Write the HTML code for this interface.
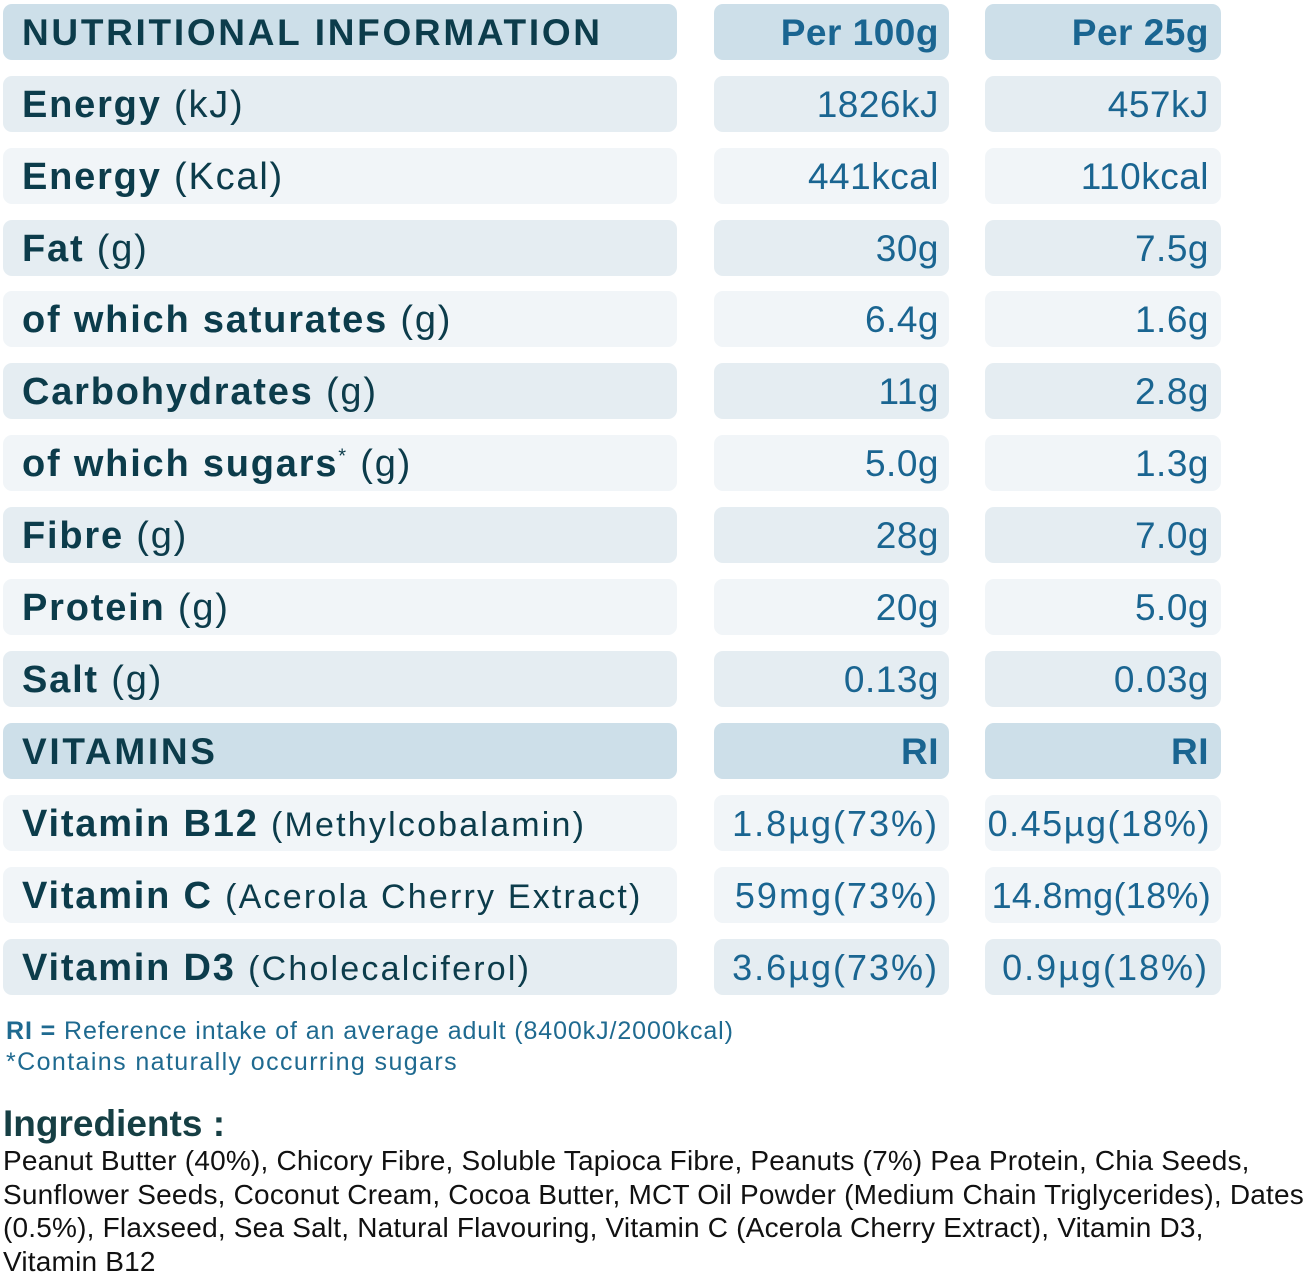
<!DOCTYPE html><html><head><style>
body{margin:0;width:1311px;height:1273px;background:#fff;position:relative;overflow:hidden;font-family:"Liberation Sans",sans-serif}
.b{position:absolute;height:56px;border-radius:9px;line-height:58px;font-size:38px;white-space:nowrap;overflow:hidden}
.l{left:3px;width:674px;padding-left:19px;box-sizing:border-box;color:#0c3c4b;font-weight:bold;letter-spacing:1.8px}
.l span{font-weight:normal}
.c2{left:714px;width:235px;text-align:right;padding-right:10px;box-sizing:border-box;color:#1a6591;font-size:37px;letter-spacing:0.5px}
.c3{left:985px;width:236px;text-align:right;padding-right:12px;box-sizing:border-box;color:#1a6591;font-size:37px;letter-spacing:0.5px}
.v{letter-spacing:2px;font-size:36px}
.h{background:#cddfe9}.d{background:#e5edf2}.w{background:#f1f5f8}
.h.c2,.h.c3{font-weight:bold}
.h.l{letter-spacing:2.7px;font-size:37px}
.p{font-size:34px;letter-spacing:2.2px}
</style></head><body>
<div class="b l h" style="top:4px">NUTRITIONAL INFORMATION</div><div class="b c2 h" style="top:4px">Per 100g</div><div class="b c3 h" style="top:4px">Per 25g</div>
<div class="b l d" style="top:76px">Energy <span>(kJ)</span></div><div class="b c2 d" style="top:76px">1826kJ</div><div class="b c3 d" style="top:76px">457kJ</div>
<div class="b l w" style="top:148px">Energy <span>(Kcal)</span></div><div class="b c2 w" style="top:148px">441kcal</div><div class="b c3 w" style="top:148px">110kcal</div>
<div class="b l d" style="top:220px">Fat <span>(g)</span></div><div class="b c2 d" style="top:220px">30g</div><div class="b c3 d" style="top:220px">7.5g</div>
<div class="b l w" style="top:291px">of which saturates <span>(g)</span></div><div class="b c2 w" style="top:291px">6.4g</div><div class="b c3 w" style="top:291px">1.6g</div>
<div class="b l d" style="top:363px">Carbohydrates <span>(g)</span></div><div class="b c2 d" style="top:363px">11g</div><div class="b c3 d" style="top:363px">2.8g</div>
<div class="b l w" style="top:435px">of which sugars<sup style="font-size:20px;font-weight:normal;line-height:0">*</sup> <span>(g)</span></div><div class="b c2 w" style="top:435px">5.0g</div><div class="b c3 w" style="top:435px">1.3g</div>
<div class="b l d" style="top:507px">Fibre <span>(g)</span></div><div class="b c2 d" style="top:507px">28g</div><div class="b c3 d" style="top:507px">7.0g</div>
<div class="b l w" style="top:579px">Protein <span>(g)</span></div><div class="b c2 w" style="top:579px">20g</div><div class="b c3 w" style="top:579px">5.0g</div>
<div class="b l d" style="top:651px">Salt <span>(g)</span></div><div class="b c2 d" style="top:651px">0.13g</div><div class="b c3 d" style="top:651px">0.03g</div>
<div class="b l h" style="top:723px">VITAMINS</div><div class="b c2 h" style="top:723px">RI</div><div class="b c3 h" style="top:723px">RI</div>
<div class="b l w" style="top:795px">Vitamin B12 <span class="p">(Methylcobalamin)</span></div><div class="b c2 w v" style="top:795px">1.8µg(73%)</div><div class="b c3 w v" style="top:795px;padding-right:10px;letter-spacing:1.5px">0.45µg(18%)</div>
<div class="b l w" style="top:867px">Vitamin C <span class="p">(Acerola Cherry Extract)</span></div><div class="b c2 w v" style="top:867px">59mg(73%)</div><div class="b c3 w v" style="top:867px;padding-right:10px;letter-spacing:0.3px">14.8mg(18%)</div>
<div class="b l d" style="top:939px">Vitamin D3 <span class="p">(Cholecalciferol)</span></div><div class="b c2 d v" style="top:939px">3.6µg(73%)</div><div class="b c3 d v" style="top:939px">0.9µg(18%)</div>
<div style="position:absolute;left:6px;top:1016px;font-size:25px;color:#1f6a90;line-height:31px;letter-spacing:0.9px;white-space:nowrap"><b>RI =</b> Reference intake of an average adult (8400kJ/2000kcal)<br><span style="letter-spacing:1.4px">*Contains naturally occurring sugars</span></div>
<div style="position:absolute;left:3px;top:1103px;font-size:37px;font-weight:bold;color:#163f44">Ingredients :</div>
<div style="position:absolute;left:3px;top:1144px;font-size:28px;letter-spacing:0.2px;color:#111;line-height:33.6px;white-space:nowrap">Peanut Butter (40%), Chicory Fibre, Soluble Tapioca Fibre, Peanuts (7%) Pea Protein, Chia Seeds,<br>Sunflower Seeds, Coconut Cream, Cocoa Butter, MCT Oil Powder (Medium Chain Triglycerides), Dates<br>(0.5%), Flaxseed, Sea Salt, Natural Flavouring, Vitamin C (Acerola Cherry Extract), Vitamin D3,<br>Vitamin B12</div>
</body></html>
